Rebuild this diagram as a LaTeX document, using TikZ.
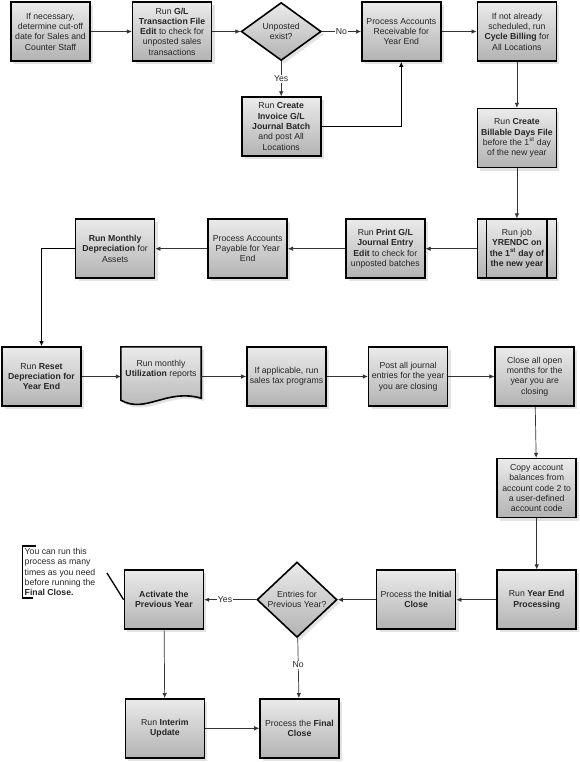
\documentclass[tikz,border=0pt]{standalone}
\usepackage{fontspec}
\setmainfont{Liberation Sans}
\usepackage{tikz}
\usetikzlibrary{positioning, arrows.meta, shapes.geometric, shadows}
\tikzset{
  box/.style    ={draw, line width=1.6pt, align=center, inner sep=2pt,
                  minimum width=79pt, minimum height=59pt, text=black!85,
                  top color=black!8, bottom color=black!30,
                  drop shadow={shadow xshift=3pt, shadow yshift=-3pt, fill=black!22},
                  font=\fontsize{8.7}{10.3}\selectfont},
  dec/.style    ={box, diamond, minimum width=80pt, minimum height=58pt, inner sep=0pt},
  docframe/.style={minimum width=80pt, minimum height=59pt, inner sep=0pt},
  docshape/.style={draw, line width=1.6pt, top color=black!8, bottom color=black!30,
                  drop shadow={shadow xshift=3pt, shadow yshift=-3pt, fill=black!22}},
  doctext/.style={align=center, text=black!85, font=\fontsize{8.7}{10.3}\selectfont},
  flow/.style   ={-{Latex[length=5pt, width=4.5pt]}, line width=0.7pt, draw=black!80},
  flowb/.style  ={flow, line width=1.3pt, draw=black},
  lbl/.style    ={fill=white, inner sep=1pt, text=black!85, font=\fontsize{8.7}{10}\selectfont},
  note/.style   ={align=left, inner sep=2pt, text=black!85, font=\fontsize{8.7}{10.3}\selectfont},
}
\begin{document}
\begin{tikzpicture}[x=1pt, y=1pt]
  \useasboundingbox (0,0) rectangle (579,-762);
  \node[box] (cutoff) at (50.5,-31.5) {If necessary,\\ determine cut-off\\ date for Sales and\\ Counter Staff};
  \node[box, right=41pt of cutoff] (gltrans) {Run \textbf{G/L}\\ \textbf{Transaction File}\\ \textbf{Edit} to check for\\ unposted sales\\ transactions};
  \node[dec, right=28pt of gltrans] (unposted) {Unposted\\ exist?};
  \node[box, right=39pt of unposted] (arproc) {Process Accounts\\ Receivable for\\ Year End};
  \node[box, right=35pt of arproc] (cycbill) {If not already\\ scheduled, run\\ \textbf{Cycle Billing} for\\ All Locations};
  \node[box, below=35pt of unposted] (invbatch) {Run \textbf{Create}\\ \textbf{Invoice G/L}\\ \textbf{Journal Batch}\\ and post All\\ Locations};
  \node[box, below=46pt of cycbill] (billdays) {Run \textbf{Create}\\ \textbf{Billable Days File}\\ before the 1\textsuperscript{st} day\\ of the new year};
  \node[box, below=50pt of billdays] (yrendc) {Run job\\ \textbf{YRENDC on}\\ \textbf{the 1\textsuperscript{st} day of}\\ \textbf{the new year}};
  \node[box, left=51pt of yrendc] (printgl) {Run \textbf{Print G/L}\\ \textbf{Journal Entry}\\ \textbf{Edit} to check for\\ unposted batches};
  \node[box, left=57pt of printgl] (approc) {Process Accounts\\ Payable for Year\\ End};
  \node[box, left=52pt of approc] (mdep) {\textbf{Run Monthly}\\ \textbf{Depreciation} for\\ Assets};
  \node[box] (rdep) at (41.5,-376.5) {Run \textbf{Reset}\\ \textbf{Depreciation for}\\ \textbf{Year End}};
  \node[docframe, right=39pt of rdep] (util) {};
  \node[box, right=45pt of util] (salestax) {If applicable, run\\ sales tax programs};
  \node[box, right=41pt of salestax] (postje) {Post all journal\\ entries for the year\\ you are closing};
  \node[box, right=46pt of postje] (closemo) {Close all open\\ months for the\\ year you are\\ closing};
  \node[box, below=51pt of closemo, xshift=2pt] (copybal) {Copy account\\ balances from\\ account code 2 to\\ a user-defined\\ account code};
  \node[box, below=51pt of copybal] (yeproc) {Run \textbf{Year End}\\ \textbf{Processing}};
  \node[box, left=40pt of yeproc] (initclose) {Process the \textbf{Initial}\\ \textbf{Close}};
  \node[dec, left=38pt of initclose] (entries) {Entries for\\ Previous Year?};
  \node[box, left=52pt of entries] (activate) {\textbf{Activate the}\\ \textbf{Previous Year}};
  \node[box, below=68pt of activate, xshift=1pt] (interim) {Run \textbf{Interim}\\ \textbf{Update}};
  \node[box, right=54pt of interim] (finalclose) {Process the \textbf{Final}\\ \textbf{Close}};
  \draw[docshape] (util.north west) -- (util.north east) -- ([yshift=8pt]util.south east)
    .. controls +(-35pt,10pt) and +(25pt,-14pt) .. ([yshift=6pt]util.south west) -- cycle;
  \node[doctext] (utiltxt) at ([yshift=7pt]util.center) {Run monthly\\ \textbf{Utilization} reports};
  \node[note, anchor=north west] (note) at (22.5,-546) {You can run this\\ process as many\\ times as you need\\ before running the\\ \textbf{Final Close.}};
  \draw[line width=1.8pt] ([xshift=13pt]note.north west) -- (note.north west) -- (note.south west) -- ([xshift=10pt]note.south west);
  \coordinate (notetip) at (107,-573);
  \draw[line width=1.3pt] (notetip) -- (activate.west);
  \draw[flow]  (cutoff) -- (gltrans);
  \draw[flow]  (gltrans) -- (unposted);
  \draw[flow]  (unposted) -- node[lbl]{No} (arproc);
  \draw[flow]  (unposted) -- node[lbl]{Yes} (invbatch);
  \draw[flowb] (invbatch.east) -| (arproc.south);
  \draw[flow]  (arproc) -- (cycbill);
  \draw[flow]  (cycbill) -- (billdays);
  \draw[flow]  (billdays) -- (yrendc);
  \draw[line width=1.6pt] ([xshift=10pt]yrendc.north west) -- ([xshift=10pt]yrendc.south west);
  \draw[line width=1.6pt] ([xshift=-10pt]yrendc.north east) -- ([xshift=-10pt]yrendc.south east);
  \draw[flow]  (yrendc) -- (printgl);
  \draw[flow]  (printgl) -- (approc);
  \draw[flow]  (approc) -- (mdep);
  \draw[flowb] (mdep.west) -| (rdep.north);
  \draw[flow]  (rdep) -- (util.west);
  \draw[flow]  (util.east) -- (salestax);
  \draw[flow]  (salestax) -- (postje);
  \draw[flow]  (postje) -- (closemo);
  \draw[flow]  (closemo) -- (copybal);
  \draw[flow]  (copybal) -- (yeproc);
  \draw[flow]  (yeproc) -- (initclose);
  \draw[flow]  (initclose) -- (entries);
  \draw[flow]  (entries) -- node[lbl, pos=0.6]{Yes} (activate);
  \draw[flow]  (entries) -- node[lbl, pos=0.45]{No} (finalclose);
  \draw[flow]  (activate) -- (interim);
  \draw[flow]  (interim) -- (finalclose);
\end{tikzpicture}
\end{document}
